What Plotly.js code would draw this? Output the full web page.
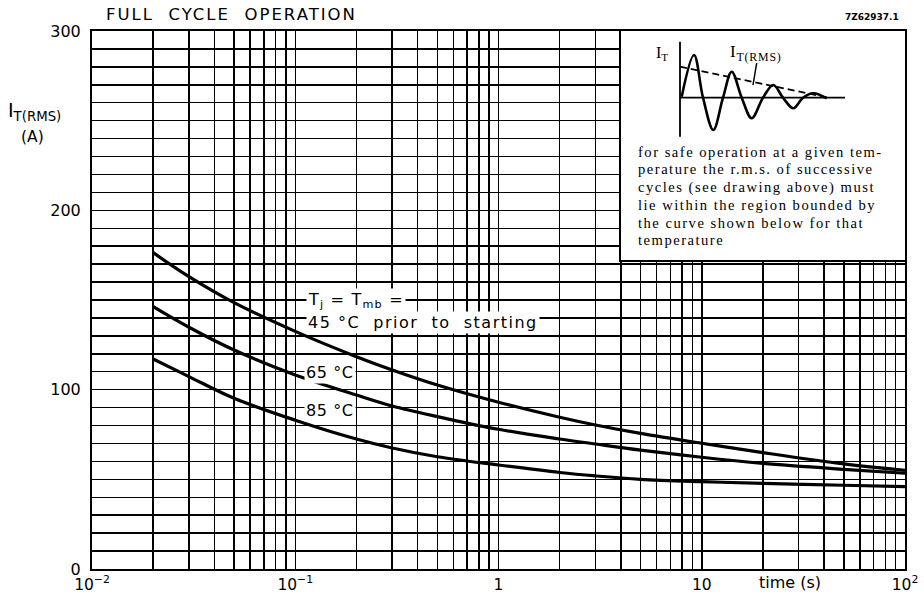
<!DOCTYPE html>
<html>
<head>
<meta charset="utf-8">
<script src="https://cdn.plot.ly/plotly-3.0.1.min.js"></script>
<style>html,body{margin:0;padding:0;background:#fff}#chart{width:924px;height:594px}</style>
</head>
<body>
<div id="chart"></div>
<script>
// ---- main chart data ----
const timeS = [0.02, 0.03, 0.05, 0.1, 0.2, 0.3, 0.5, 1, 2, 3, 5, 10, 20, 50, 100];
const i45 = [176.4, 163, 148.5, 132.5, 118.4, 111, 102.6, 93, 84.6, 80.3, 75.6, 70.1, 64.9, 58.6, 55];
const i65 = [146.3, 134.8, 122.1, 108.2, 97, 90.9, 85, 77.9, 72.5, 69.7, 66.3, 62.3, 58.9, 55.6, 53.4];
const i85 = [117.1, 107.3, 95.2, 83, 72.5, 67.5, 62.6, 58, 53.8, 51.9, 50, 48.7, 47.8, 46.7, 45.9];

const xDecades = [0.01, 0.1, 1, 10, 100];
const xDecadeLabels = ['10<sup>\u22122</sup>', '10<sup>\u22121</sup>', '1', '10', '10<sup>2</sup>'];
const yMajor = [0, 100, 200, 300];
const yMajorLabels = ['0', '100', '200', '300'];

const chartTitle = 'FULL\u00A0\u00A0CYCLE\u00A0\u00A0OPERATION';
const drawingNo = '7Z62937.1';
const yTitle = 'I<sub>T(RMS)</sub>';
const yUnit = '(A)';
const xTitle = 'time (s)';
const curveLabels = ['T<sub>j</sub> = T<sub>mb</sub> =', '45 \u00B0C\u00A0 prior\u00A0 to\u00A0 starting', '65 \u00B0C', '85 \u00B0C'];

// ---- inset sketch (inset coordinates) ----
const sketchAxisX = [59.3, 59.3];
const sketchAxisY = [218.3, 123.3];
const sketchBaseX = [59.3, 224.3];
const sketchBaseY = [162.3, 162.3];
const waveX = [61, 73.3, 82.3, 92.6, 102.3, 111, 121, 131, 142.3, 152.6, 162.3, 172.6, 182.3, 192.6, 206];
const waveY = [163.3, 205, 162.3, 130, 162.3, 188.3, 162.3, 141.7, 162.3, 175, 162.3, 151.7, 162.3, 166.7, 161.7];
const rmsX = [59.3, 209.3];
const rmsY = [193.3, 162];
const leaderX = [136, 132.3];
const leaderY = [197, 175];
const insetNote = [
  'for safe operation at a given tem-',
  'perature the r.m.s. of successive',
  'cycles (see drawing above) must',
  'lie within the region bounded by',
  'the curve shown below for that',
  'temperature'
];

// ---- grid values ----
const xGrid = [], xGridText = [];
xDecades.forEach(function (d, k) {
  if (k < xDecades.length - 1) {
    for (let m = 1; m <= 9; m++) { xGrid.push(d * m); xGridText.push(m === 1 ? xDecadeLabels[k] : ''); }
  } else { xGrid.push(d); xGridText.push(xDecadeLabels[k]); }
});
const yGrid = [], yGridText = [];
for (let v = 0; v <= 300; v += 10) {
  yGrid.push(v);
  const idx = yMajor.indexOf(v);
  yGridText.push(idx >= 0 ? yMajorLabels[idx] : '');
}

const SANS = 'DejaVu Sans, sans-serif';
const SERIF = 'Liberation Serif, serif';
function spaced(t, ls) { return '<span style="letter-spacing:' + ls + 'px">' + t + '</span>'; }

const curveLine = {color: '#000', width: 3.2, shape: 'spline', smoothing: 1};
const traces = [
  {x: timeS, y: i45, mode: 'lines', line: curveLine, hoverinfo: 'skip', xaxis: 'x', yaxis: 'y'},
  {x: timeS, y: i65, mode: 'lines', line: curveLine, hoverinfo: 'skip', xaxis: 'x', yaxis: 'y'},
  {x: timeS, y: i85, mode: 'lines', line: curveLine, hoverinfo: 'skip', xaxis: 'x', yaxis: 'y'},
  {x: sketchAxisX, y: sketchAxisY, mode: 'lines', line: {color: '#000', width: 1.8}, xaxis: 'x2', yaxis: 'y2', hoverinfo: 'skip'},
  {x: sketchBaseX, y: sketchBaseY, mode: 'lines', line: {color: '#000', width: 1.8}, xaxis: 'x2', yaxis: 'y2', hoverinfo: 'skip'},
  {x: waveX, y: waveY, mode: 'lines', line: {color: '#000', width: 2.6, shape: 'spline', smoothing: 1}, xaxis: 'x2', yaxis: 'y2', hoverinfo: 'skip'},
  {x: rmsX, y: rmsY, mode: 'lines', line: {color: '#000', width: 1.8, dash: '7px,4px'}, xaxis: 'x2', yaxis: 'y2', hoverinfo: 'skip'},
  {x: leaderX, y: leaderY, mode: 'lines', line: {color: '#000', width: 1.5}, xaxis: 'x2', yaxis: 'y2', hoverinfo: 'skip'}
];

// pixel helpers for annotation placement (plot area 92..905 x 31..569)
function px(x) { return (x - 92) / 813; }
function py(y) { return (569 - y) / 538; }

const annotations = [
  {xref: 'paper', yref: 'paper', x: px(104), y: py(15), xanchor: 'left', yanchor: 'middle', showarrow: false,
   text: spaced(chartTitle, 2), font: {family: SANS, size: 16.5, color: '#000'}},
  {xref: 'paper', yref: 'paper', x: px(901), y: py(17), xanchor: 'right', yanchor: 'middle', showarrow: false,
   text: '<b>' + drawingNo + '</b>', font: {family: SANS, size: 9, color: '#000'}},
  {xref: 'paper', yref: 'paper', x: px(6), y: py(111), xanchor: 'left', yanchor: 'middle', showarrow: false,
   text: yTitle, font: {family: SANS, size: 19, color: '#000'}},
  {xref: 'paper', yref: 'paper', x: px(19), y: py(137), xanchor: 'left', yanchor: 'middle', showarrow: false,
   text: yUnit, font: {family: SANS, size: 15.5, color: '#000'}},
  {xref: 'paper', yref: 'paper', x: px(790), y: py(582), xanchor: 'center', yanchor: 'middle', showarrow: false,
   text: xTitle, font: {family: SANS, size: 16, color: '#000'}},
  {xref: 'paper', yref: 'paper', x: px(306), y: py(300), xanchor: 'left', yanchor: 'middle', showarrow: false,
   text: spaced(curveLabels[0], 1.2), bgcolor: '#fff', borderpad: 1, font: {family: SANS, size: 16, color: '#000'}},
  {xref: 'paper', yref: 'paper', x: px(306), y: py(322), xanchor: 'left', yanchor: 'middle', showarrow: false,
   text: spaced(curveLabels[1], 1.5), bgcolor: '#fff', borderpad: 1, font: {family: SANS, size: 16, color: '#000'}},
  {xref: 'paper', yref: 'paper', x: px(304), y: py(372), xanchor: 'left', yanchor: 'middle', showarrow: false,
   text: spaced(curveLabels[2], 0.6), bgcolor: '#fff', borderpad: 1, font: {family: SANS, size: 16, color: '#000'}},
  {xref: 'paper', yref: 'paper', x: px(304), y: py(410), xanchor: 'left', yanchor: 'middle', showarrow: false,
   text: spaced(curveLabels[3], 0.6), bgcolor: '#fff', borderpad: 1, font: {family: SANS, size: 16, color: '#000'}},
  // inset labels
  {xref: 'x2', yref: 'y2', x: 41.3, y: 207, xanchor: 'center', yanchor: 'middle', showarrow: false,
   text: 'I<sub>T</sub>', font: {family: SERIF, size: 16, color: '#000'}},
  {xref: 'x2', yref: 'y2', x: 107.5, y: 207, xanchor: 'left', yanchor: 'middle', showarrow: false,
   text: spaced('I<sub>T(RMS)</sub>', 0.8), font: {family: SERIF, size: 17, color: '#000'}}
];
insetNote.forEach(function (line, k) {
  annotations.push({xref: 'x2', yref: 'y2', x: 15, y: 260 - (151.7 + k * 17.7), xanchor: 'left', yanchor: 'middle',
    showarrow: false, text: spaced(line, 1.5), font: {family: SERIF, size: 14.6, color: '#000'}});
});

const layout = {
  width: 924, height: 594,
  margin: {l: 92, r: 19, t: 31, b: 25, pad: 0},
  paper_bgcolor: '#fff', plot_bgcolor: '#fff',
  showlegend: false,
  xaxis: {
    type: 'log', range: [-2, 2], domain: [0, 1], anchor: 'y',
    tickmode: 'array', tickvals: xGrid, ticktext: xGridText,
    showgrid: true, gridcolor: '#000', gridwidth: 1.5,
    showline: true, mirror: true, linecolor: '#000', linewidth: 2,
    ticks: '', tickfont: {family: SANS, size: 15.5, color: '#000'}, zeroline: false, automargin: false, fixedrange: true
  },
  yaxis: {
    range: [0, 300], domain: [0, 1], anchor: 'x',
    tickmode: 'array', tickvals: yGrid, ticktext: yGridText,
    showgrid: true, gridcolor: '#000', gridwidth: 1.5,
    showline: true, mirror: true, linecolor: '#000', linewidth: 2,
    ticks: 'outside', ticklen: 6, tickcolor: 'rgba(0,0,0,0)',
    tickfont: {family: SANS, size: 16, color: '#000'}, zeroline: false, automargin: false, fixedrange: true
  },
  xaxis2: {
    domain: [px(620.7), 1], anchor: 'y2', range: [0, 284.3],
    showgrid: false, zeroline: false, showticklabels: false, ticks: '',
    showline: true, mirror: true, linecolor: '#000', linewidth: 1.5, fixedrange: true
  },
  yaxis2: {
    domain: [py(260), 1], anchor: 'x2', range: [0, 229],
    showgrid: false, zeroline: false, showticklabels: false, ticks: '',
    showline: true, mirror: true, linecolor: '#000', linewidth: 1.5, fixedrange: true
  },
  annotations: annotations
};

Plotly.newPlot('chart', traces, layout, {displayModeBar: false, staticPlot: true});
</script>
</body>
</html>
